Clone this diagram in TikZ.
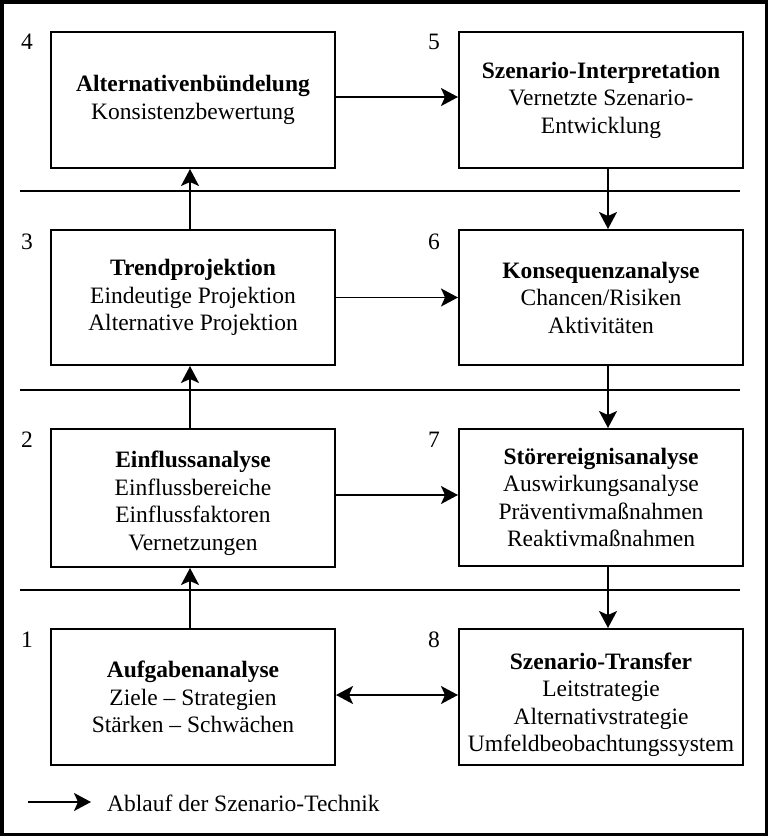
\documentclass[tikz,border=0pt]{standalone}
\usepackage{fontspec}
\setmainfont{Liberation Serif}
\usetikzlibrary{arrows.meta}
\begin{document}
\begin{tikzpicture}[x=1pt,y=-1pt,
  box/.style={draw,line width=2pt,minimum width=284pt,anchor=north west,inner sep=0pt,
    align=center,font=\fontsize{23.5}{27.5}\selectfont},
  num/.style={font=\fontsize{23.5}{27.5}\selectfont,inner sep=0pt},
  arr/.style={line width=1.8pt,-{Stealth[length=17pt,width=18pt,inset=4pt]}},
  darr/.style={line width=1.8pt,{Stealth[length=17pt,width=18pt,inset=4pt]}-{Stealth[length=17pt,width=18pt,inset=4pt]}},
  sep/.style={line width=2.5pt}]
\useasboundingbox (0,0) rectangle (768,836);
\draw[line width=3.5pt] (1.75,1.75) rectangle (766.25,834.25);
% separators
\draw[sep] (20,191) -- (740,191);
\draw[sep] (20,390) -- (740,390);
\draw[sep] (20,590) -- (740,590);
% boxes
\node[box,minimum height=136pt] (b4) at (50,31) {\textbf{Alternativenbündelung}\\Konsistenzbewertung};
\node[box,minimum height=136pt] (b5) at (458,31) {\textbf{Szenario-Interpretation}\\Vernetzte Szenario-\\Entwicklung};
\node[box,minimum height=135pt] (b3) at (50,229) {\textbf{Trendprojektion}\\Eindeutige Projektion\\Alternative Projektion};
\node[box,minimum height=135pt] (b6) at (458,229) {\textbf{Konsequenzanalyse}\\Chancen/Risiken\\Aktivitäten};
\node[box,minimum height=138pt] (b2) at (50,428) {\rule{0pt}{27pt}\textbf{Einflussanalyse}\\Einflussbereiche\\Einflussfaktoren\\Vernetzungen};
\node[box,minimum height=137pt] (b7) at (458,428) {\textbf{Störereignisanalyse}\\Auswirkungsanalyse\\Präventivmaßnahmen\\Reaktivmaßnahmen};
\node[box,minimum height=136pt] (b1) at (50,628) {\textbf{Aufgabenanalyse}\\Ziele – Strategien\\Stärken – Schwächen};
\node[box,minimum height=136pt] (b8) at (458,628) {\rule{0pt}{32pt}\textbf{Szenario-Transfer}\\Leitstrategie\\Alternativstrategie\\Umfeldbeobachtungssystem};
% numbers
\node[num] (n4) at (27,42) {4};
\node[num] (n5) at (434,42) {5};
\node[num] (n3) at (27,242) {3};
\node[num] (n6) at (434,242) {6};
\node[num] (n2) at (27,440) {2};
\node[num] (n7) at (434,440) {7};
\node[num] (n1) at (27,640) {1};
\node[num] (n8) at (434,640) {8};
% arrows
\coordinate (lx) at (190,0);
\coordinate (rx) at (608,0);
\coordinate (y45) at (0,97);
\coordinate (y27) at (0,495);
\draw[arr] (b4.east |- y45) -- (b5.west |- y45);
\draw[arr] (b5.south -| rx) -- (b6.north -| rx);
\draw[arr] (b6.south -| rx) -- (b7.north -| rx);
\draw[arr] (b7.south -| rx) -- (b8.north -| rx);
\draw[arr] (b1.north -| lx) -- (b2.south -| lx);
\draw[arr] (b2.north -| lx) -- (b3.south -| lx);
\draw[arr] (b3.north -| lx) -- (b4.south -| lx);
\draw[arr] (b3.east) -- (b6.west);
\draw[arr] (b2.east |- y27) -- (b7.west |- y27);
\draw[darr] (b1.east |- 0,695) -- (b8.west |- 0,695);
% legend
\coordinate (la) at (28,802);
\coordinate (lb) at (91,802);
\draw[arr] (la) -- (lb);
\node[num,anchor=west] (lt) at (107,803) {Ablauf der Szenario-Technik};
\end{tikzpicture}
\end{document}
